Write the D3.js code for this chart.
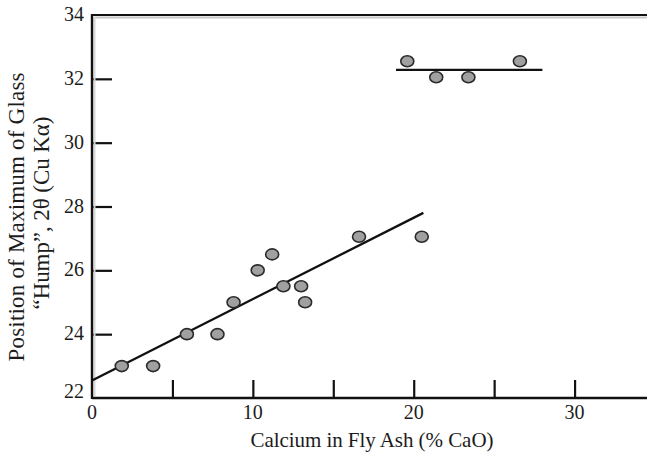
<html>
    <head>
        <script src="https://d3js.org/d3.v7.min.js"></script>
        <style>
            body { margin: 0; background: #fff; }
            text { font-family: "Liberation Serif", "Times New Roman", serif; fill: #1c1c1c; }
        </style>
    </head>
    <body>
        <svg width="647" height="456" id="chart"></svg>
    </body>
    <script>
        // points: % CaO and 2-theta of the glass hump
        var cao   = [1.85, 3.8, 5.9, 7.8, 8.8, 10.3, 11.2, 11.9, 13.0, 13.25, 16.6, 20.5, 19.6, 21.4, 23.4, 26.6]
        var theta = [23.0, 23.0, 24.0, 24.0, 25.0, 26.0, 26.5, 25.5, 25.5, 25.0, 27.05, 27.05, 32.55, 32.05, 32.05, 32.55]

        // the two hand drawn trend lines (end points)
        var lowLineX = [0, 20.6], lowLineY = [22.55, 27.8]
        var highLineX = [18.9, 28.0], highLineY = [32.28, 32.28]

        var xTicks = [0, 10, 20, 30]
        var xMinor = [5, 10, 15, 20, 25, 30]
        var yTicks = [22, 24, 26, 28, 30, 32, 34]

        var svg = d3.select("#chart")
        var mLeft = 92, mTop = 15, mRight = 655, mBottom = 398

        var x = d3.scaleLinear().domain([0, 35]).range([mLeft, mRight])
        var y = d3.scaleLinear().domain([22, 34]).range([mBottom, mTop])

        // tick marks pointing inward, no labels on the x ones
        svg.append("g")
            .attr("transform", "translate(0," + mBottom + ")")
            .call(d3.axisTop(x).tickValues(xMinor).tickSize(18).tickFormat(""))
            .call(function(g) {
                g.select(".domain").remove()
                g.selectAll(".tick line").attr("stroke", "#111").attr("stroke-width", 2.2)
            })

        svg.append("g")
            .attr("transform", "translate(" + mLeft + ",0)")
            .call(d3.axisRight(y).tickValues(yTicks.slice(1, -1)).tickSize(20).tickFormat(""))
            .call(function(g) {
                g.select(".domain").remove()
                g.selectAll(".tick line").attr("stroke", "#111").attr("stroke-width", 2.2)
            })

        // frame: left, bottom and top lines, with a faint grey shadow inside
        svg.append("line")
            .attr("x1", mLeft + 2.5).attr("x2", 647)
            .attr("y1", y(34) + 2.5).attr("y2", y(34) + 2.5)
            .attr("stroke", "#c8c8c8").attr("stroke-width", 2)
        svg.append("line")
            .attr("x1", mLeft + 2.5).attr("x2", mLeft + 2.5)
            .attr("y1", y(34) + 2.5).attr("y2", mBottom - 2)
            .attr("stroke", "#d8d8d8").attr("stroke-width", 2)
        svg.append("line")
            .attr("x1", mLeft).attr("x2", mLeft)
            .attr("y1", y(34) - 1).attr("y2", mBottom + 1)
            .attr("stroke", "#111").attr("stroke-width", 2.4)
        svg.append("line")
            .attr("x1", mLeft).attr("x2", 647)
            .attr("y1", mBottom).attr("y2", mBottom)
            .attr("stroke", "#111").attr("stroke-width", 2.4)
        svg.append("line")
            .attr("x1", mLeft).attr("x2", 647)
            .attr("y1", y(34)).attr("y2", y(34))
            .attr("stroke", "#111").attr("stroke-width", 2.2)

        // tick labels
        svg.selectAll(".ylab")
            .data(yTicks)
            .enter().append("text")
            .attr("x", mLeft - 8)
            .attr("y", function(d) { return y(d) + (d == 22 ? 0 : 6) })
            .attr("text-anchor", "end")
            .style("font-size", "20px")
            .text(function(d) { return d })

        svg.selectAll(".xlab")
            .data(xTicks)
            .enter().append("text")
            .attr("x", function(d) { return x(d) })
            .attr("y", mBottom + 21)
            .attr("text-anchor", "middle")
            .style("font-size", "20px")
            .text(function(d) { return d })

        // axis titles
        svg.append("text")
            .attr("x", 372).attr("y", 447)
            .attr("text-anchor", "middle")
            .attr("textLength", 243)
            .style("font-size", "21px")
            .text("Calcium in Fly Ash (% CaO)")

        svg.append("text")
            .attr("transform", "translate(24,217) rotate(-90)")
            .attr("text-anchor", "middle")
            .attr("textLength", 289)
            .style("font-size", "23px")
            .text("Position of Maximum of Glass")
        svg.append("text")
            .attr("transform", "translate(49,213) rotate(-90)")
            .attr("text-anchor", "middle")
            .attr("textLength", 193)
            .style("font-size", "23px")
            .text("\u201CHump\u201D, 2\u03B8 (Cu K\u03B1)")

        // trend lines
        var line = d3.line().x(function(d) { return x(d[0]) }).y(function(d) { return y(d[1]) })
        svg.append("path")
            .attr("d", line(d3.zip(lowLineX, lowLineY)))
            .attr("stroke", "#111").attr("stroke-width", 2.3).attr("fill", "none")
        svg.append("path")
            .attr("d", line(d3.zip(highLineX, highLineY)))
            .attr("stroke", "#111").attr("stroke-width", 2.3).attr("fill", "none")

        // the points
        svg.selectAll(".pt")
            .data(d3.zip(cao, theta))
            .enter().append("ellipse")
            .attr("cx", function(d) { return x(d[0]) })
            .attr("cy", function(d) { return y(d[1]) })
            .attr("rx", 6.5)
            .attr("ry", 5.5)
            .attr("fill", "#a0a0a0")
            .attr("stroke", "#2a2a2a")
            .attr("stroke-width", 1.6)
    </script>
</html>
